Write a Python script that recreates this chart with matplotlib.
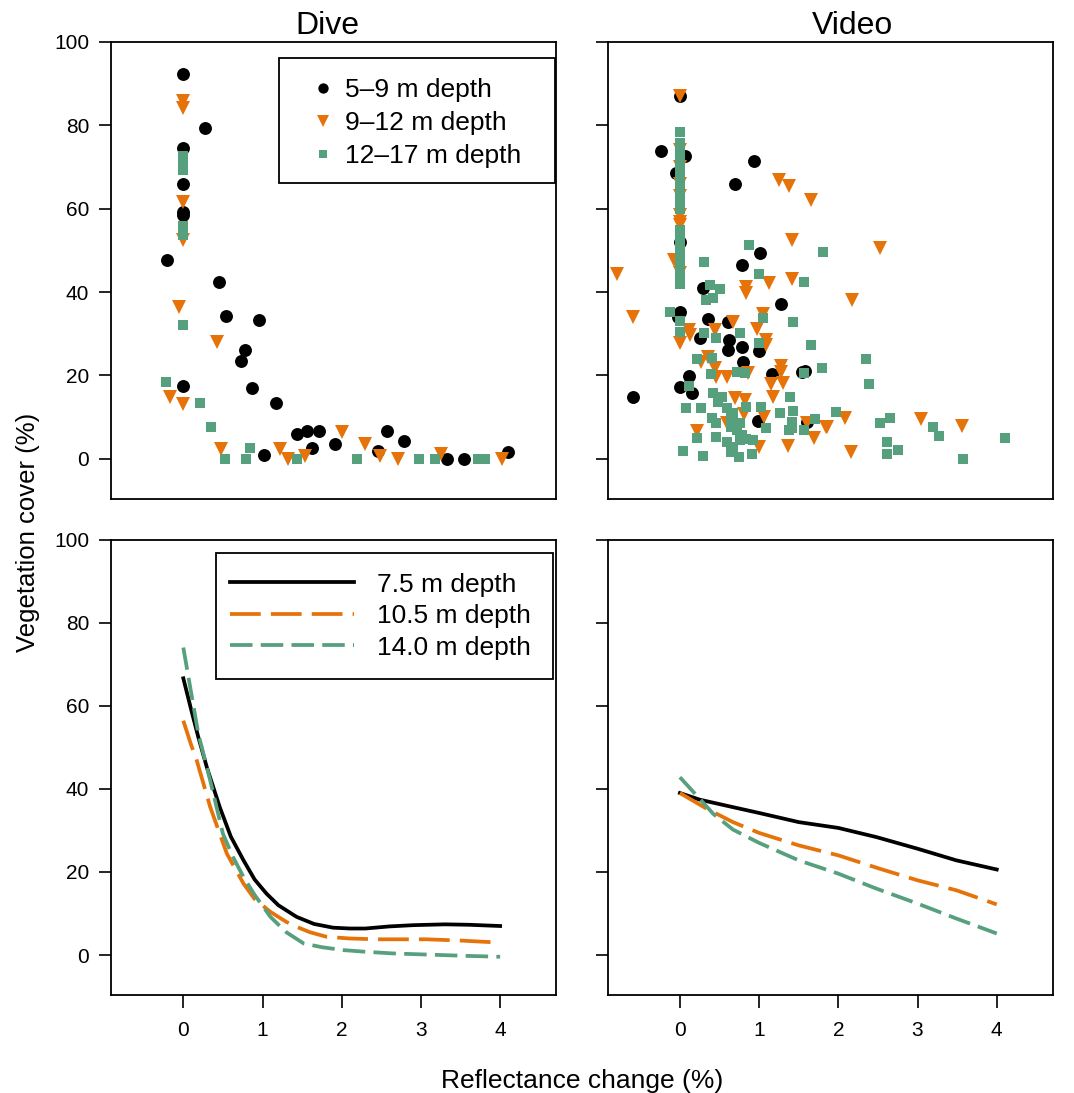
import matplotlib
matplotlib.use("Agg")
import matplotlib.pyplot as plt
from matplotlib.patches import Rectangle

plt.rcParams['font.family'] = ['Liberation Sans', 'DejaVu Sans']

COL_BLACK = "#000000"
COL_ORANGE = "#E6730A"
COL_GREEN = "#56A07D"

# ---- Dive observations (reflectance change %, vegetation cover %) ----
dive_x_5_9 = [0, 0.28, 0, 0, 0, 0, -0.21, 0.455, 0.535, 0.95, 0.78, 0.73, 0, 0.87,
              1.17, 1.44, 1.56, 1.71, 1.91, 1.02, 1.62, 2.57, 2.46, 2.79, 3.33, 3.54, 4.1]
dive_y_5_9 = [92.3, 79.2, 74.6, 65.9, 59.3, 58.5, 47.7, 42.3, 34.3, 33.3, 26.1, 23.5, 17.6, 16.9,
              13.3, 6.0, 6.8, 6.8, 3.5, 1.0, 2.6, 6.8, 1.9, 4.3, 0, 0, 1.75]

dive_x_9_12 = [0, 0, 0, 0, -0.06, 0.42, -0.17, 0, 0.48, 1.22, 1.32, 1.54, 2.0, 2.3,
               2.48, 2.71, 3.25, 4.02]
dive_y_9_12 = [85.7, 84.1, 61.5, 52.5, 36.5, 28.1, 14.9, 13.2, 2.3, 2.3, 0, 0.7, 6.5, 3.5,
               0.6, 0, 1.1, 0]

dive_x_12_17 = [0, 0, 0, 0, 0, 0, -0.22, 0.215, 0.35, 0.84, 0.52, 0.79, 1.44, 2.19,
                2.97, 3.18, 3.72, 3.81]
dive_y_12_17 = [72.7, 71.0, 69.3, 55.9, 53.7, 32.1, 18.4, 13.3, 7.6, 2.6, 0, 0, 0, 0,
                0, 0, 0, 0]

# ---- Video observations ----
video_x_5_9 = [0, -0.24, 0.06, -0.05, 0.93, 0.70, 0, 1.01, 0.78, 0.29, 1.28, 0, -0.03,
               0.35, 0.61, 0.25, 0.62, 0.61, 0.78, 1.0, 0.80, 1.16, 1.54, 1.58, 0.12,
               0, 0.15, -0.59, 0.98, 1.61]
video_y_5_9 = [87.1, 73.9, 72.5, 68.5, 71.3, 65.9, 52.0, 49.3, 46.4, 40.9, 37.2, 35.3, 34.0,
               33.5, 32.9, 29.0, 28.5, 26.0, 26.9, 25.9, 23.3, 20.4, 20.9, 21.1, 19.9,
               17.3, 15.9, 14.8, 9.1, 8.9]

video_x_9_12 = [0, 0, 0, 0, 0, 1.25, 1.38, 1.65, 0, 0, 0, 1.42, -0.08, -0.8, 0, 1.12,
                1.42, 0.84, 0.84, -0.59, 0.12, 0.13, 0, 0.67, 0.44, 0.97, 1.05, 1.09,
                1.09, 0.36, 0.27, 0.44, 0.46, 0.86, 0.59, 1.28, 1.28, 1.15, 1.30, 1.18,
                0.69, 0.82, 0.81, 1.06, 0.59, 1.61, 1.85, 0.21, 1.0, 1.37, 1.69, 2.52,
                2.17, 2.08, 1.86, 3.04, 3.56, 2.16]
video_y_9_12 = [87.1, 74.0, 70.0, 66.0, 63.0, 66.9, 65.5, 62.1, 58.5, 56.9, 56.1, 52.5, 47.7,
                44.4, 44.5, 42.1, 43.1, 41.3, 39.7, 34.0, 30.9, 29.7, 27.9, 32.9, 30.9,
                31.1, 34.8, 28.5, 27.3, 24.5, 23.3, 21.7, 19.7, 20.5, 19.6, 22.3, 20.9,
                18.0, 18.1, 14.9, 14.6, 14.1, 10.8, 10.1, 8.6, 8.6, 7.7, 6.8, 2.9, 3.1,
                5.0, 50.5, 38.0, 9.9, 7.7, 9.5, 7.9, 1.75]

video_x_12_17 = [0] * 26 + [-0.13, 0.87, 1.81, 0.30, 1.0, 1.57, 0.38, 0.5, 0.33, 0.42,
                 0.31, 0.45, 0.76, 1.05, 1.43, 1.0, 1.65, 0.22, 0.40, 0.39, 0.72, 0.82,
                 1.57, 1.79, 0.12, 0.42, 0.53, 0.48, 0.59, 0.67, 0.83, 0.08, 0.27, 1.03,
                 1.39, 1.26, 1.43, 0.40, 0.46, 0.65, 0.76, 0.72, 0.78, 0.65, 1.09, 1.41,
                 1.41, 1.38, 1.70, 1.57, 0.22, 0.46, 0.59, 0.76, 0.84, 0.92, 0.67, 0.65,
                 0.75, 0.91, 0.04, 0.29, 2.35, 2.39, 1.97, 2.53, 2.65, 3.2, 3.27, 4.11,
                 2.61, 2.61, 2.75, 3.58]
video_y_12_17 = [78.3, 75.7, 74.5, 73.3, 72.0, 70.7, 69.4, 68.0, 66.7, 65.4, 64.0, 62.7,
                 61.4, 60.0, 54.9, 53.6, 52.3, 51.0, 49.7, 48.4, 47.0, 45.5, 44.4, 42.0,
                 33.1, 30.5,
                 35.3, 51.3, 49.5, 47.3, 44.3, 42.4, 41.7, 40.8, 38.1, 38.5,
                 30.3, 28.9, 30.3, 33.7, 32.8, 27.9, 27.3, 23.9, 24.3, 20.3, 20.9, 20.7,
                 20.7, 21.9, 17.5, 15.9, 14.9, 13.7, 12.2, 11.0, 12.5, 12.2, 12.3, 12.5,
                 14.8, 11.0, 11.6, 9.8, 8.6, 10.1, 8.6, 7.0, 5.8, 7.7, 7.4, 8.9,
                 7.4, 7.0, 9.5, 7.0, 5.0, 5.3, 4.1, 4.6, 4.7, 4.6, 2.9, 1.75,
                 0.55, 1.2, 2.0, 0.7, 23.9, 17.9, 11.2, 8.7, 9.8, 7.6, 5.6, 5.0,
                 4.1, 1.2, 2.2, 0]

# ---- Model predictions at three depths ----
dive_fit_x_75 = [0, 0.1, 0.19, 0.3, 0.46, 0.6, 0.76, 0.9, 1.05, 1.2, 1.43, 1.65, 1.89,
                 2.1, 2.3, 2.6, 2.9, 3.3, 3.6, 4.0]
dive_fit_y_75 = [66.6, 59.0, 52.4, 45.0, 35.6, 28.5, 22.8, 18.2, 14.8, 12.0, 9.2, 7.5, 6.6,
                 6.4, 6.4, 6.9, 7.2, 7.4, 7.3, 7.0]
dive_fit_x_105 = [0, 0.1, 0.17, 0.34, 0.55, 0.76, 0.9, 1.1, 1.3, 1.43, 1.6, 1.81, 2.1,
                  2.44, 3.07, 3.5, 4.0]
dive_fit_y_105 = [56.4, 50.5, 46.8, 35.6, 24.4, 17.2, 13.5, 10.4, 8.0, 6.8, 5.5, 4.4, 4.0,
                  3.8, 3.8, 3.5, 3.0]
dive_fit_x_140 = [0, 0.08, 0.19, 0.34, 0.5, 0.63, 0.76, 0.9, 1.1, 1.3, 1.52, 1.75, 2.02,
                  2.3, 2.65, 3.28, 3.6, 4.0]
dive_fit_y_140 = [74.0, 65.2, 53.2, 42.0, 29.2, 23.5, 18.8, 14.5, 9.2, 5.5, 2.8, 1.9, 1.2,
                  0.8, 0.4, 0.0, -0.2, -0.4]

video_fit_x_75 = [0, 0.25, 0.67, 1.0, 1.5, 2.0, 2.48, 3.0, 3.49, 4.0]
video_fit_y_75 = [39.0, 37.4, 35.6, 34.2, 32.0, 30.6, 28.4, 25.6, 22.8, 20.6]
video_fit_x_105 = [0, 0.34, 0.67, 1.0, 1.5, 2.0, 2.52, 3.0, 3.49, 4.0]
video_fit_y_105 = [39.0, 35.2, 32.0, 29.4, 26.4, 24.0, 20.8, 18.0, 15.6, 12.2]
video_fit_x_140 = [0, 0.25, 0.42, 0.67, 1.0, 1.5, 2.0, 2.48, 3.0, 3.49, 4.0]
video_fit_y_140 = [42.8, 37.6, 34.0, 30.2, 27.0, 22.8, 19.6, 16.0, 12.4, 8.8, 5.2]

group_labels = ["5\u20139 m depth", "9\u201312 m depth", "12\u201317 m depth"]
fit_labels = ["7.5 m depth", "10.5 m depth", "14.0 m depth"]
y_ticks = [0, 20, 40, 60, 80, 100]
x_ticks = [0, 1, 2, 3, 4]

W, H = 1074, 1093
fig = plt.figure(figsize=(W / 100, H / 100), dpi=100)

def px_axes(left, top, right, bottom):
    return fig.add_axes([left / W, 1 - bottom / H, (right - left) / W, (bottom - top) / H])

ax_dive = px_axes(111.4, 41.7, 556.2, 499)
ax_video = px_axes(608, 41.7, 1052.8, 499)
ax_dive_fit = px_axes(111.4, 539.5, 556.2, 995)
ax_video_fit = px_axes(608, 539.5, 1052.8, 995)

for ax in (ax_dive, ax_video, ax_dive_fit, ax_video_fit):
    ax.set_xlim(-0.908, 4.708)
    ax.set_ylim(-9.6, 100)
    ax.set_yticks(y_ticks)
    for s in ax.spines.values():
        s.set_linewidth(1.3)
    ax.tick_params(axis='both', direction='out', length=9, width=1.2,
                   labelsize=15, pad=7)

for ax in (ax_dive, ax_video):
    ax.set_xticks([])
for ax in (ax_dive_fit, ax_video_fit):
    ax.set_xticks(x_ticks)
    ax.tick_params(axis='x', pad=10)
for ax in (ax_video, ax_video_fit):
    ax.tick_params(axis='y', labelleft=False)

LEG_FS = 19

def legend_frame(ax, x0, y0, x1, y1):
    ax.add_patch(Rectangle((x0, y0), x1 - x0, y1 - y0, transform=ax.transAxes,
                           fill=False, edgecolor="black", linewidth=1.3, zorder=5,
                           clip_on=False))

def scatter_groups(ax, xs, ys, with_legend):
    styles = [("o", COL_BLACK, 9.3), ("v", COL_ORANGE, 10.0), ("s", COL_GREEN, 7.8)]
    handles = []
    for (m, c, ms), x, y, lab in zip(styles, xs, ys, group_labels):
        h, = ax.plot(x, y, linestyle="none", marker=m, color=c, markersize=ms,
                     markeredgewidth=0, label=lab)
        handles.append(h)
    if with_legend:
        ax.legend(handles=handles, loc="center left", bbox_to_anchor=(0.4467, 0.8215),
                  borderaxespad=0, borderpad=0, fontsize=LEG_FS, frameon=False,
                  handlelength=1.0, handletextpad=0.32, labelspacing=0.34,
                  markerscale=0.8)
        legend_frame(ax, 0.3775, 0.6904, 0.9973, 0.965)

scatter_groups(ax_dive, [dive_x_5_9, dive_x_9_12, dive_x_12_17],
               [dive_y_5_9, dive_y_9_12, dive_y_12_17], True)
scatter_groups(ax_video, [video_x_5_9, video_x_9_12, video_x_12_17],
               [video_y_5_9, video_y_9_12, video_y_12_17], False)

def fit_lines(ax, xs, ys, with_legend):
    specs = [(COL_BLACK, None, 2.7), (COL_ORANGE, (8.2, 2.7), 2.7), (COL_GREEN, (6.0, 2.2), 2.7)]
    handles = []
    for (c, d, lw), x, y, lab in zip(specs, xs, ys, fit_labels):
        h, = ax.plot(x, y, color=c, linewidth=lw, label=lab)
        if d is not None:
            h.set_dashes(d)
        handles.append(h)
    if with_legend:
        ax.legend(handles=handles, loc="center left", bbox_to_anchor=(0.2666, 0.832),
                  borderaxespad=0, borderpad=0, fontsize=LEG_FS, frameon=False,
                  handlelength=4.7, handletextpad=0.86, labelspacing=0.285)
        legend_frame(ax, 0.2352, 0.6937, 0.9928, 0.971)

fit_lines(ax_dive_fit, [dive_fit_x_75, dive_fit_x_105, dive_fit_x_140],
          [dive_fit_y_75, dive_fit_y_105, dive_fit_y_140], True)
fit_lines(ax_video_fit, [video_fit_x_75, video_fit_x_105, video_fit_x_140],
          [video_fit_y_75, video_fit_y_105, video_fit_y_140], False)

fig.text(327.5 / W, 1 - 34 / H, "Dive", fontsize=23, ha="center", va="baseline")
fig.text(852.5 / W, 1 - 34 / H, "Video", fontsize=23, ha="center", va="baseline")
fig.text(28 / W, 1 - 532 / H, "Vegetation cover (%)", fontsize=18.5, rotation=90,
         ha="center", va="center")
fig.text(582 / W, 1 - 1088 / H, "Reflectance change (%)", fontsize=19,
         ha="center", va="baseline")

fig.savefig("out.png", dpi=100)
